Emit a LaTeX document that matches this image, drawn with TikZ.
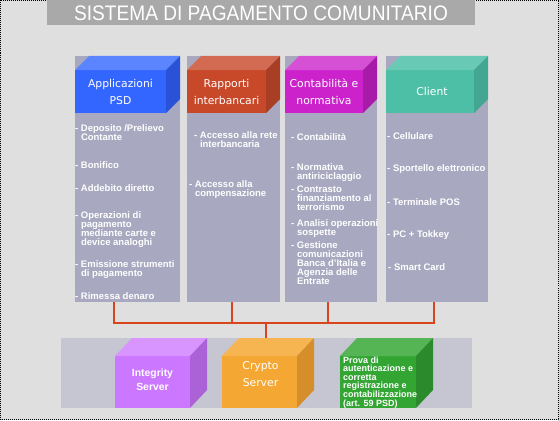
\documentclass[tikz,border=0pt]{standalone}
\usepackage{fontspec}
\setmainfont{Liberation Sans}
\newfontfamily\hdrfont{DejaVu Sans}
\newfontfamily\titlefont[FakeStretch=0.91]{Liberation Sans}
\usetikzlibrary{calc}

\definecolor{bgc}{HTML}{DFDFDF}
\definecolor{titlebg}{HTML}{A9A9A9}
\definecolor{panelc}{HTML}{A8A8C0}
\definecolor{bpanelc}{HTML}{C6C6D2}
\definecolor{linkc}{HTML}{D9441C}
\definecolor{blueF}{HTML}{3366FF}\definecolor{blueT}{HTML}{5A85FF}\definecolor{blueS}{HTML}{2A52D6}
\definecolor{redF}{HTML}{C8482A}\definecolor{redT}{HTML}{D26B52}\definecolor{redS}{HTML}{A83E24}
\definecolor{magF}{HTML}{CC22CC}\definecolor{magT}{HTML}{D650D6}\definecolor{magS}{HTML}{A81BA8}
\definecolor{tealF}{HTML}{4DBFA6}\definecolor{tealT}{HTML}{68CAB4}\definecolor{tealS}{HTML}{42A690}
\definecolor{purF}{HTML}{CC77FF}\definecolor{purT}{HTML}{D894FF}\definecolor{purS}{HTML}{AA62D6}
\definecolor{orgF}{HTML}{F5A733}\definecolor{orgT}{HTML}{F7B552}\definecolor{orgS}{HTML}{D68E2A}
\definecolor{grnF}{HTML}{33A533}\definecolor{grnT}{HTML}{55B555}\definecolor{grnS}{HTML}{2B8A2B}

\newcommand\drawcube[5]{%
  \fill[#4] (#1.north west) -- ++(#2,-#3) -- ($(#1.north east)+(#2,-#3)$) -- (#1.north east) -- cycle;
  \fill[#5] (#1.north east) -- ++(#2,-#3) -- ($(#1.south east)+(#2,-#3)$) -- (#1.south east) -- cycle;}

\tikzset{
  panel/.style={fill=panelc, draw=none, inner sep=0, outer sep=0, anchor=north west},
  front/.style={draw=none, inner sep=0, outer sep=0, anchor=north west},
  hdr/.style={font=\hdrfont\fontsize{10.8}{17}\selectfont, text=white, align=center, inner sep=0},
  bul/.style={font=\bfseries\fontsize{9.5}{9}\selectfont, text=white, align=left, anchor=north west, inner sep=0},
  link/.style={draw=linkc, line width=1.2pt},
}

\begin{document}
\begin{tikzpicture}[x=1pt,y=-1pt]
\fill[bgc] (0,0) rectangle (559,420);
\useasboundingbox (0,0) rectangle (559,420);
\draw[black, line width=1pt, dash pattern=on 1pt off 1pt] (0.5,0.5) rectangle (558.5,419.5);

% title
\fill[titlebg] (47,0) rectangle (475,25);
\node[font=\titlefont\fontsize{21}{21}\selectfont, text=white, inner sep=0] (title) at (261,12.8) {SISTEMA DI PAGAMENTO COMUNITARIO};

% panels
\node[panel, minimum width=105pt, minimum height=246pt] (p1) at (75,56) {};
\node[panel, minimum width=93pt, minimum height=246pt] (p2) at (187,56) {};
\node[panel, minimum width=92pt, minimum height=246pt] (p3) at (285,56) {};
\node[panel, minimum width=102pt, minimum height=246pt] (p4) at (386,56) {};

% header cubes
\node[front, fill=blueF, minimum width=91pt, minimum height=43pt] (h1) at (75,70) {};
\drawcube{h1}{14}{14}{blueT}{blueS}
\node[hdr] (t1) at (h1.center) {Applicazioni\\PSD};
\node[front, fill=redF, minimum width=79pt, minimum height=43pt] (h2) at (187,70) {};
\drawcube{h2}{14}{14}{redT}{redS}
\node[hdr] (t2) at (h2.center) {Rapporti\\interbancari};
\node[front, fill=magF, minimum width=78pt, minimum height=43pt] (h3) at (285,70) {};
\drawcube{h3}{14}{14}{magT}{magS}
\node[hdr] (t3) at (h3.center) {Contabilità e\\normativa};
\node[front, fill=tealF, minimum width=88pt, minimum height=43pt] (h4) at (386,70) {};
\drawcube{h4}{14}{14}{tealT}{tealS}
\node[hdr] (t4) at ($(h4.center)+(2,0)$) {Client};

% column 1
\node[bul] (a1) at (75,124.5) {- Deposito /Prelievo\\\hphantom{- }Contante};
\node[bul] (a2) at (75,161.5) {- Bonifico};
\node[bul] (a3) at (75,184.5) {- Addebito diretto};
\node[bul] (a4) at (75,211.5) {- Operazioni di\\\hphantom{- }pagamento\\\hphantom{- }mediante carte e\\\hphantom{- }device analoghi};
\node[bul] (a5) at (75,260.5) {- Emissione strumenti\\\hphantom{- }di pagamento};
\node[bul] (a6) at (75,292.5) {- Rimessa denaro};

% column 2
\node[bul] (b1) at (194,131.5) {- Accesso alla rete\\\hphantom{- }interbancaria};
\node[bul] (b2) at (189,180.5) {- Accesso alla\\\hphantom{- }compensazione};

% column 3
\node[bul] (k1) at (291,133.5) {- Contabilità};
\node[bul] (k2) at (291,163.5) {- Normativa\\\hphantom{- }antiriciclaggio};
\node[bul] (k3) at (291,185.5) {- Contrasto\\\hphantom{- }finanziamento al\\\hphantom{- }terrorismo};
\node[bul] (k4) at (291,219.5) {- Analisi operazioni\\\hphantom{- }sospette};
\node[bul] (k5) at (291,241.5) {- Gestione\\\hphantom{- }comunicazioni\\\hphantom{- }Banca d’Italia e\\\hphantom{- }Agenzia delle\\\hphantom{- }Entrate};

% column 4
\node[bul] (m1) at (387,132.5) {- Cellulare};
\node[bul] (m2) at (387,164.5) {- Sportello elettronico};
\node[bul] (m3) at (387,198.5) {- Terminale POS};
\node[bul] (m4) at (387,230.5) {- PC + Tokkey};
\node[bul] (m5) at (388,263.5) {- Smart Card};

% bottom panel
\node[panel, fill=bpanelc, minimum width=411pt, minimum height=70pt] (bp) at (61,338) {};

% connectors
\coordinate (j1) at (114,323);
\coordinate (j2) at (232,323);
\coordinate (j3) at (328,323);
\coordinate (j4) at (434,323);
\coordinate (jc) at (266,323);
\draw[link] (j1 |- p1.south) -- (j1) -- (j4) -- (j4 |- p4.south);
\draw[link] (j2 |- p2.south) -- (j2);
\draw[link] (j3 |- p3.south) -- (j3);
\draw[link] (jc) -- (jc |- bp.north);

% bottom cubes
\node[front, fill=purF, minimum width=75pt, minimum height=52pt] (c1) at (115,356) {};
\drawcube{c1}{17}{18}{purT}{purS}
\node[font=\bfseries\fontsize{10.4}{14.5}\selectfont, text=white, align=center, inner sep=0] (ct1) at ($(c1.center)+(0,-2)$) {Integrity\\Server};
\node[front, fill=orgF, minimum width=75pt, minimum height=52pt] (c2) at (222,356) {};
\drawcube{c2}{17}{18}{orgT}{orgS}
\node[hdr] (ct2) at ($(c2.center)+(1,-7.5)$) {Crypto\\Server};
\node[front, fill=grnF, minimum width=76pt, minimum height=52pt] (c3) at (340,356) {};
\drawcube{c3}{17}{18}{grnT}{grnS}
\node[font=\bfseries\fontsize{9}{8.4}\selectfont, text=white, align=left, anchor=north west, inner sep=0] (ct3) at (343,356.5) {Prova di\\autenticazione e\\corretta\\registrazione e\\contabilizzazione\\(art. 59 PSD)};
\end{tikzpicture}
\end{document}
